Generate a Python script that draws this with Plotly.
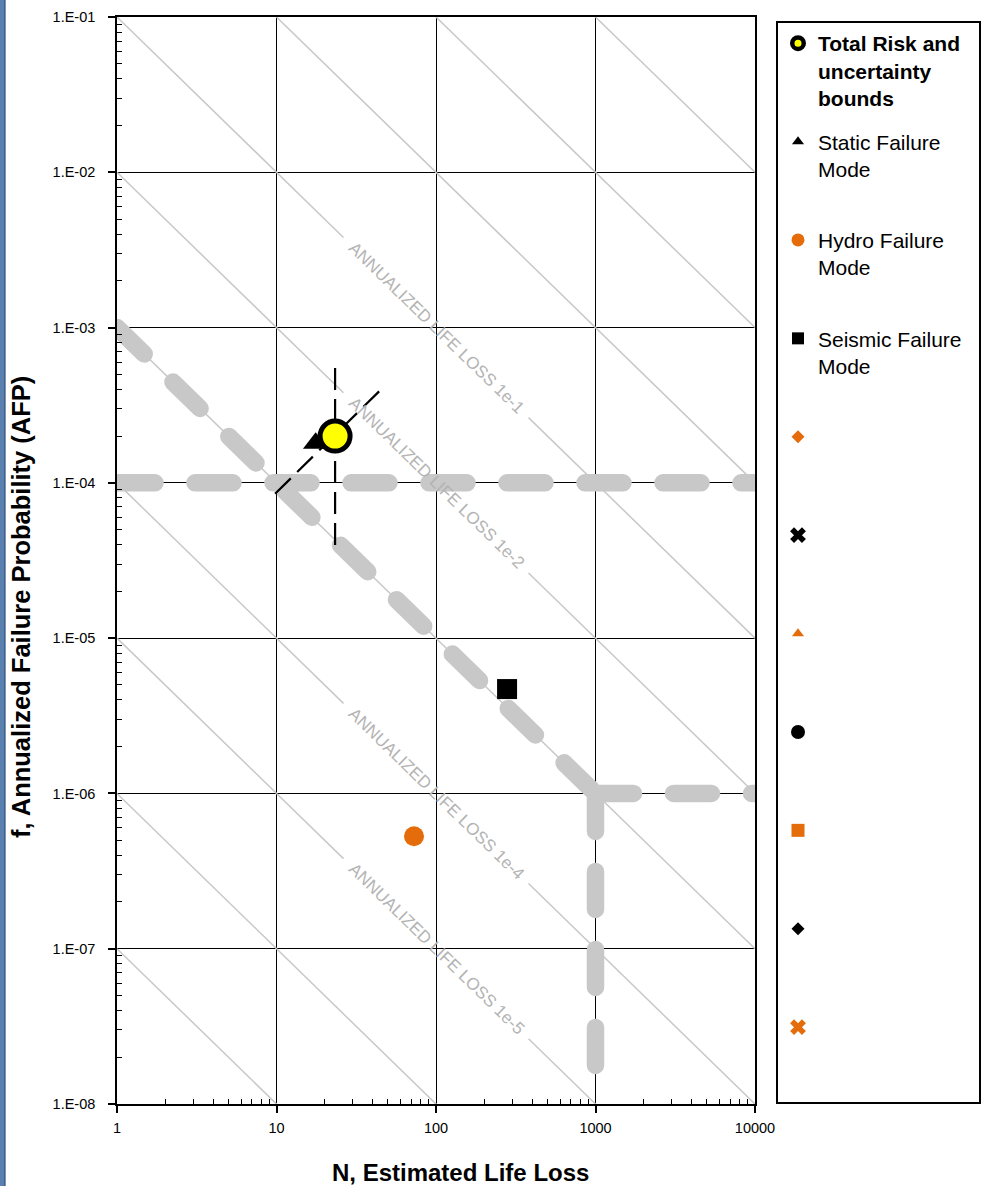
import math
import plotly.graph_objects as go

# ---------------- data ----------------
# Failure modes (N = estimated life loss, f = annualized failure probability)
total_N = [23.3]
total_f = [2.0e-4]
static_N = [17.6]
static_f = [1.8e-4]
hydro_N = [72.8]
hydro_f = [5.3e-7]
seismic_N = [279.0]
seismic_f = [4.7e-6]

# Uncertainty bounds of total risk
bound_vert_N = [23.3, 23.3]
bound_vert_f = [5.5e-4, 3.5e-5]
bound_diag_N = [9.8, 47.0]
bound_diag_f = [8.5e-5, 4.15e-4]

# Tolerable-risk guidelines (thick gray dashed)
guide_diag_N = [1, 1000]
guide_diag_f = [1e-3, 1e-6]
guide_h4_N = [1, 10000]
guide_h4_f = [1e-4, 1e-4]
guide_h6_N = [1000, 10000]
guide_h6_f = [1e-6, 1e-6]
guide_v_N = [1000, 1000]
guide_v_f = [1e-6, 1e-8]

# Annualized life loss iso-lines (f * N = level)
iso_levels = [1e2, 1e1, 1e0, 1e-1, 1e-2, 1e-3, 1e-4, 1e-5, 1e-6, 1e-7]
labeled_levels = [1e-1, 1e-2, 1e-4, 1e-5]
label_texts = ["ANNUALIZED LIFE LOSS 1e-1", "ANNUALIZED LIFE LOSS 1e-2",
               "ANNUALIZED LIFE LOSS 1e-4", "ANNUALIZED LIFE LOSS 1e-5"]
label_center_N = 100

x_tickvals = [1, 10, 100, 1000, 10000]
x_ticktext = ["1", "10", "100", "1000", "10000"]
y_tickvals = [1e-8, 1e-7, 1e-6, 1e-5, 1e-4, 1e-3, 1e-2, 1e-1]
y_ticktext = ["1.E-08", "1.E-07", "1.E-06", "1.E-05", "1.E-04", "1.E-03", "1.E-02", "1.E-01"]

# ---------------- style ----------------
W, H = 982, 1186
ML, MR, MT, MB = 117, 227, 17, 82
PW, PH = W - ML - MR, H - MT - MB
FONT = "Liberation Sans, Arial, sans-serif"
ORANGE = "#E46C0A"
GRAY = "#c8c8c8"
GAP_DEC = 0.58  # half-width (decades) of the gap left for a line label

fig = go.Figure()

# iso-lines, with gaps where labels sit
iso_x, iso_y = [], []
for lv in iso_levels:
    if lv in labeled_levels:
        xs = [1, label_center_N / 10 ** GAP_DEC, None, label_center_N * 10 ** GAP_DEC, 10000]
    else:
        xs = [1, 10000]
    for xv in xs:
        iso_x.append(xv)
        iso_y.append(None if xv is None else lv / xv)
    iso_x.append(None)
    iso_y.append(None)
fig.add_trace(go.Scatter(x=iso_x, y=iso_y, mode="lines", showlegend=False,
                         hoverinfo="skip", line=dict(color=GRAY, width=1.5)))

# guideline dashed lines
for gx, gy in [(guide_h4_N, guide_h4_f), (guide_diag_N, guide_diag_f),
               (guide_h6_N, guide_h6_f), (guide_v_N, guide_v_f)]:
    fig.add_trace(go.Scatter(x=gx, y=gy, mode="lines", showlegend=False, hoverinfo="skip",
                             line=dict(color=GRAY, width=17.5, dash="38px,40px")))

# uncertainty bounds
for bx, by in [(bound_vert_N, bound_vert_f), (bound_diag_N, bound_diag_f)]:
    fig.add_trace(go.Scatter(x=bx, y=by, mode="lines", showlegend=False, legendgroup="total",
                             line=dict(color="black", width=2.2, dash="22px,9px")))

# data markers (drawn), legend handled by proxies
fig.add_trace(go.Scatter(x=hydro_N, y=hydro_f, mode="markers", showlegend=False, legendgroup="hydro",
                         marker=dict(symbol="circle", size=20, color=ORANGE)))
fig.add_trace(go.Scatter(x=seismic_N, y=seismic_f, mode="markers", showlegend=False, legendgroup="seismic",
                         marker=dict(symbol="square", size=20, color="black")))
fig.add_trace(go.Scatter(x=static_N, y=static_f, mode="markers", showlegend=False, legendgroup="static",
                         marker=dict(symbol="triangle-up", size=22, color="black")))
fig.add_trace(go.Scatter(x=total_N, y=total_f, mode="markers", showlegend=False, legendgroup="total",
                         marker=dict(symbol="circle", size=30, color="#FFFF00",
                                     line=dict(color="black", width=5))))

# legend entries
NB = "\u00a0"
BLANK = NB + "<br>" + NB + "<br>" + NB
legend_items = [
    ("total", "<b>Total Risk and</b><br><b>uncertainty</b><br><b>bounds</b>",
     dict(symbol="circle", size=11.5, color="#FFFF00", line=dict(color="black", width=4.5))),
    ("static", "Static Failure<br>Mode<br>" + NB, dict(symbol="triangle-up", size=10.5, color="black")),
    ("hydro", "Hydro Failure<br>Mode<br>" + NB, dict(symbol="circle", size=13, color=ORANGE)),
    ("seismic", "Seismic Failure" + NB * 2 + "<br>Mode<br>" + NB, dict(symbol="square", size=12, color="black")),
    ("s5", BLANK, dict(symbol="diamond", size=10, color=ORANGE)),
    ("s6", BLANK, dict(symbol="x", size=14, color="black")),
    ("s7", BLANK, dict(symbol="triangle-up", size=10.5, color=ORANGE)),
    ("s8", BLANK, dict(symbol="circle", size=14, color="black")),
    ("s9", BLANK, dict(symbol="square", size=13, color=ORANGE)),
    ("s10", BLANK, dict(symbol="diamond", size=10, color="black")),
    ("s11", BLANK, dict(symbol="x", size=14, color=ORANGE)),
]
for rank, (grp, name, mk) in enumerate(legend_items):
    fig.add_trace(go.Scatter(x=[None], y=[None], mode="markers", name=name, legendgroup=grp,
                             legendrank=rank + 1, showlegend=True, marker=mk))

# iso-line labels
ang = math.degrees(math.atan((PH / 7) / (PW / 4)))
for lv, txt in zip(labeled_levels, label_texts):
    fig.add_annotation(x=math.log10(label_center_N), y=math.log10(lv / label_center_N),
                       xref="x", yref="y", text=txt, showarrow=False, textangle=ang,
                       xanchor="center", yanchor="middle",
                       font=dict(family=FONT, size=17, color="#b4b4b4"))

# axis titles
fig.add_annotation(x=(21 - ML) / PW, y=(H - MB - 607) / PH, xref="paper", yref="paper",
                   text="<b>f, Annualized Failure Probability (AFP)</b>", textangle=-90,
                   xanchor="center", yanchor="middle",
                   showarrow=False, font=dict(family=FONT, size=25.5, color="black"))
fig.add_annotation(x=(460 - ML) / PW, y=(H - MB - 1172) / PH, xref="paper", yref="paper",
                   text="<b>N, Estimated Life Loss</b>", showarrow=False,
                   xanchor="center", yanchor="middle",
                   font=dict(family=FONT, size=24, color="black"))

# left blue window edge
fig.add_shape(type="rect", xref="paper", yref="paper", x0=-ML / PW, x1=(5 - ML) / PW,
              y0=-MB / PH, y1=(H - MB) / PH, fillcolor="#5a80b0", line=dict(width=0), layer="above")
fig.add_shape(type="line", xref="paper", yref="paper", x0=(5 - ML) / PW, x1=(5 - ML) / PW,
              y0=-MB / PH, y1=(H - MB) / PH, line=dict(color="#2d4f7c", width=1.2), layer="above")

minor_x = [m * 10 ** k for k in range(0, 4) for m in range(2, 10)]
minor_y = [m * 10 ** k for k in range(-8, -1) for m in range(2, 10)]

fig.update_xaxes(type="log", range=[0, 4], tickmode="array", tickvals=x_tickvals, ticktext=x_ticktext,
                 showgrid=True, gridcolor="black", gridwidth=1.2, zeroline=False,
                 showline=True, linecolor="black", linewidth=1.5, mirror=True,
                 ticks="outside", ticklen=7, tickwidth=1.5, tickcolor="black",
                 tickfont=dict(family=FONT, size=14.5, color="black"), ticklabelstandoff=3,
                 minor=dict(tickmode="array", tickvals=minor_x, ticks="inside", ticklen=5,
                            tickwidth=1.2, tickcolor="black", showgrid=False))
fig.update_yaxes(type="log", range=[-8, -1], tickmode="array", tickvals=y_tickvals, ticktext=y_ticktext,
                 showgrid=True, gridcolor="black", gridwidth=1.2, zeroline=False,
                 showline=True, linecolor="black", linewidth=1.5, mirror=True,
                 ticks="outside", ticklen=7, tickwidth=1.5, tickcolor="black",
                 tickfont=dict(family=FONT, size=14.5, color="black"), ticklabelstandoff=10,
                 minor=dict(tickmode="array", tickvals=minor_y, ticks="inside", ticklen=5,
                            tickwidth=1.2, tickcolor="black", showgrid=False))

fig.update_layout(
    width=W, height=H, autosize=False,
    margin=dict(l=ML, r=MR, t=MT, b=MB, pad=0, autoexpand=False),
    paper_bgcolor="white", plot_bgcolor="white",
    font=dict(family=FONT, color="black"),
    showlegend=True,
    legend=dict(x=(776 - ML) / PW, xanchor="left", y=(H - MB - 21) / PH, yanchor="top",
                bordercolor="black", borderwidth=2, bgcolor="white",
                font=dict(family=FONT, size=21, color="black"),
                valign="top", tracegroupgap=13.5, traceorder="grouped"),
    hovermode="closest",
)

css = ("html,body{margin:0;padding:0;overflow:hidden;}"
       "path.js-line[style*='stroke-width: 17.5px']{stroke-linecap:round;}")
post = ("var s=document.createElement('style');s.textContent=\"" + css +
        "\";document.head.appendChild(s);")
fig.write_html("out.html", post_script=post, config={"displayModeBar": False})
